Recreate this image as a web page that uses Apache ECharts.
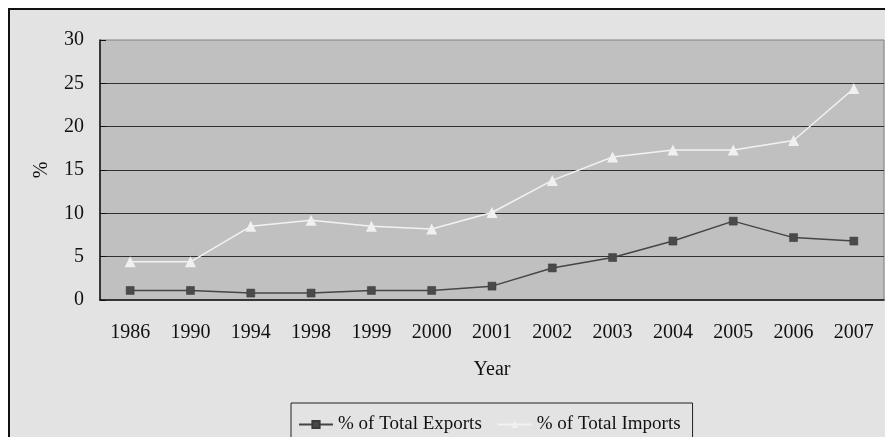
<!DOCTYPE html>
<html>
<head>
<meta charset="utf-8">
<script src="https://cdn.jsdelivr.net/npm/echarts@6/dist/echarts.min.js"></script>
<style>
  html, body { margin: 0; padding: 0; background: #ffffff; }
  #chart { width: 885px; height: 437px; }
</style>
</head>
<body>
<div id="chart"></div>
<script>
// Share of total exports and imports by year (%)
const years = ['1986', '1990', '1994', '1998', '1999', '2000', '2001', '2002', '2003', '2004', '2005', '2006', '2007'];
const exportsShare = [1.1, 1.1, 0.8, 0.8, 1.1, 1.1, 1.6, 3.7, 4.9, 6.8, 9.1, 7.2, 6.8];
const importsShare = [4.4, 4.4, 8.5, 9.2, 8.5, 8.2, 10.1, 13.8, 16.5, 17.3, 17.3, 18.4, 24.4];
const yTicks = { min: 0, max: 30, interval: 5 };

const serif = 'Liberation Serif, Times New Roman, serif';
const chart = echarts.init(document.getElementById('chart'), null, { renderer: 'canvas' });

chart.setOption({
  backgroundColor: '#ffffff',
  animation: false,
  graphic: [{
    type: 'rect',
    z: -10,
    shape: { x: 9, y: 9, width: 920, height: 460 },
    style: { fill: '#e3e3e3', stroke: '#111111', lineWidth: 2 }
  }],
  grid: {
    left: 100, top: 40, right: 1, bottom: 137,
    show: true,
    backgroundColor: '#c0c0c0',
    borderColor: '#808080',
    borderWidth: 1
  },
  legend: {
    left: 291, top: 403,
    padding: [12, 12, 10, 7],
    itemGap: 15,
    itemWidth: 34, itemHeight: 9,
    borderColor: '#222222', borderWidth: 1,
    textStyle: { fontFamily: serif, fontSize: 19, color: '#111111' },
    data: ['% of Total Exports', '% of Total Imports']
  },
  xAxis: {
    type: 'category',
    data: years,
    boundaryGap: true,
    name: 'Year',
    nameLocation: 'middle',
    nameGap: 60,
    nameTextStyle: { fontFamily: serif, fontSize: 20, color: '#111111' },
    axisLine: { lineStyle: { color: '#111111', width: 1.5 } },
    axisTick: { inside: true, length: 6, lineStyle: { color: '#111111' } },
    axisLabel: { fontFamily: serif, fontSize: 20, color: '#111111', margin: 23 },
    splitLine: { show: false }
  },
  yAxis: {
    type: 'value',
    min: yTicks.min, max: yTicks.max, interval: yTicks.interval,
    name: '%',
    nameLocation: 'middle',
    nameRotate: 90,
    nameGap: 48,
    nameTextStyle: { fontFamily: serif, fontSize: 20, color: '#111111' },
    axisLine: { show: true, lineStyle: { color: '#111111', width: 1.5 } },
    axisTick: { show: true, inside: true, length: 6, lineStyle: { color: '#111111' } },
    axisLabel: { fontFamily: serif, fontSize: 20, color: '#111111', margin: 16 },
    splitLine: { show: true, showMinLine: false, showMaxLine: false, lineStyle: { color: '#303030', width: 1 } }
  },
  series: [
    {
      name: '% of Total Exports',
      type: 'line',
      data: exportsShare,
      symbol: 'rect',
      symbolSize: 8,
      lineStyle: { color: '#454545', width: 1.5 },
      itemStyle: { color: '#4a4a4a', borderColor: '#3a3a3a', borderWidth: 0.5 }
    },
    {
      name: '% of Total Imports',
      type: 'line',
      data: importsShare,
      symbol: 'triangle',
      symbolSize: 11,
      lineStyle: { color: '#f2f2f2', width: 1.5 },
      itemStyle: { color: '#f0f0f0' }
    }
  ]
});
</script>
</body>
</html>
